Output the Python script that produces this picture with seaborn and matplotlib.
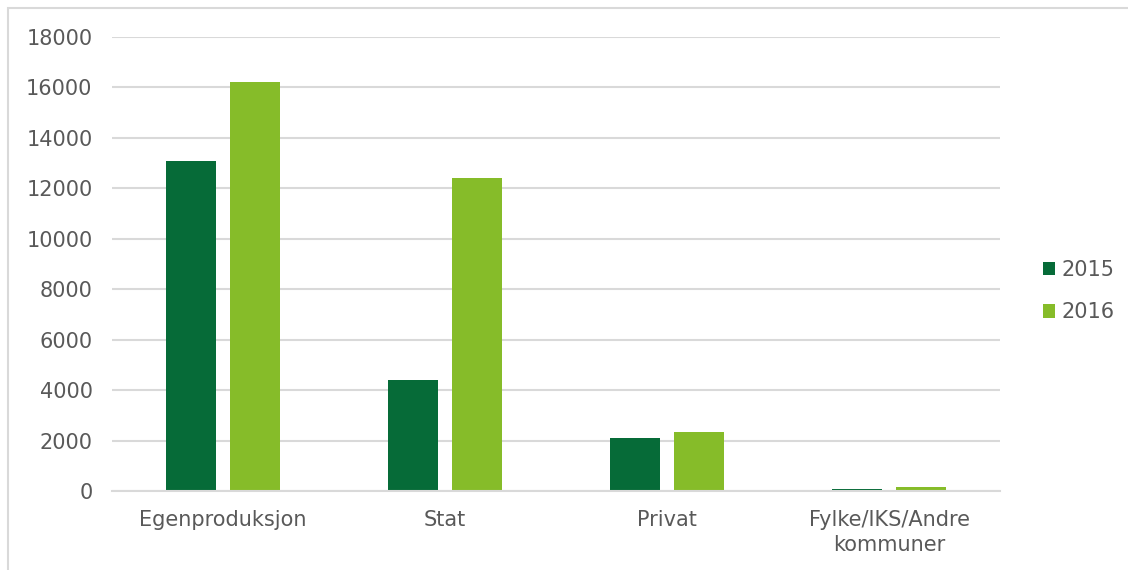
import matplotlib
matplotlib.use("Agg")
import matplotlib.pyplot as plt
from matplotlib.patches import Rectangle, Patch
import seaborn as sns
import pandas as pd

categories = ["Egenproduksjon", "Stat", "Privat", "Fylke/IKS/Andre\nkommuner"]
years = ["2015", "2016"]
values_2015 = [13100, 4400, 2100, 80]
values_2016 = [16200, 12400, 2350, 160]
yticks = [0, 2000, 4000, 6000, 8000, 10000, 12000, 14000, 16000, 18000]

df = pd.DataFrame({
    "Kategori": categories * 2,
    "År": [years[0]] * 4 + [years[1]] * 4,
    "Verdi": values_2015 + values_2016,
})

sns.set_theme(style="white")
plt.rcParams['font.family'] = ['DejaVu Sans']

text_col = "#595959"
grid_col = "#d9d9d9"
colors = ["#066b38", "#86bc29"]
fs = 15

fig = plt.figure(figsize=(11.28, 5.70), dpi=100)
# outer frame
fig.patches.append(Rectangle((8/1128, -0.1), 1.2, 1 - 8/570 + 0.1, transform=fig.transFigure,
                             fill=False, edgecolor=grid_col, linewidth=1.5, zorder=0))

ax = fig.add_axes([112/1128, 1 - 491/570, 888/1128, 454/570])
sns.barplot(data=df, x="Kategori", y="Verdi", hue="År", palette=colors,
            width=0.577, gap=0.22, ax=ax, legend=False, saturation=1, linewidth=0)

ax.set_ylim(0, 18000)
ax.set_xlim(-0.5, 3.5)
ax.set_yticks(yticks)
ax.set_yticklabels([str(v) for v in yticks])
ax.yaxis.grid(True, color=grid_col, linewidth=1.5)
ax.set_axisbelow(True)
for s in ["top", "right", "left"]:
    ax.spines[s].set_visible(False)
ax.spines["bottom"].set_color(grid_col)
ax.spines["bottom"].set_linewidth(1.5)
ax.set_xlabel("")
ax.set_ylabel("")
ax.tick_params(axis="both", length=0, labelsize=fs, colors=text_col)
ax.tick_params(axis="y", pad=14)
ax.tick_params(axis="x", pad=14)
for lbl in ax.get_xticklabels():
    lbl.set_linespacing(1.3)

handles = [Patch(facecolor=colors[0], edgecolor="none"), Patch(facecolor=colors[1], edgecolor="none")]
leg = fig.legend(handles, years, loc="center left", bbox_to_anchor=(1024/1128, 1 - 291/570),
                 frameon=False, fontsize=fs, handlelength=0.6, handleheight=0.6,
                 handletextpad=0.3, labelspacing=1.1)
for t in leg.get_texts():
    t.set_color(text_col)

fig.savefig("out.png", dpi=100)
